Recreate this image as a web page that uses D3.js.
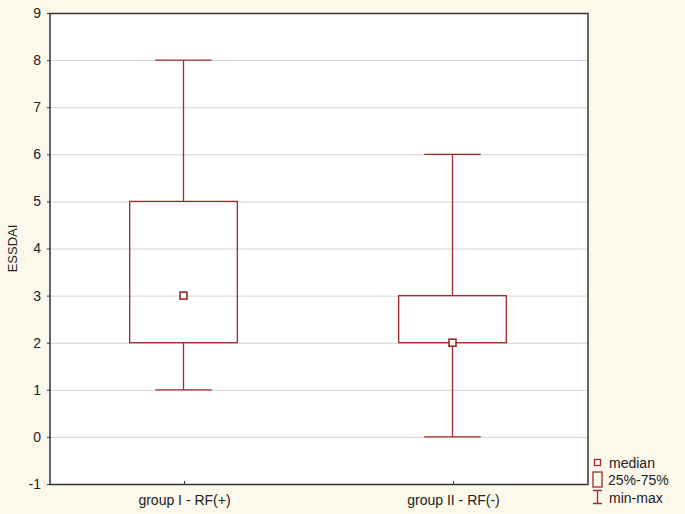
<!DOCTYPE html>
<html>
<head>
<meta charset="utf-8">
<script src="https://cdn.jsdelivr.net/npm/d3@7"></script>
<style>
  body { margin: 0; background: #fcf8ec; }
  svg { display: block; font-family: "Liberation Sans", Arial, sans-serif; }
</style>
</head>
<body>
<div id="chart"></div>
<script>
// data
const groups = ['group I - RF(+)', 'group II - RF(-)'];
const mins = [1, 0];
const q1s = [2, 2];
const medians = [3, 2];
const q3s = [5, 3];
const maxs = [8, 6];
const yTicks = [-1, 0, 1, 2, 3, 4, 5, 6, 7, 8, 9];

const width = 685, height = 514;
const margin = { top: 13, right: 97, bottom: 30, left: 50 };
const boxColor = '#a02a2a';

const svg = d3.select('#chart').append('svg')
  .attr('width', width)
  .attr('height', height);

const x = d3.scaleBand()
  .domain(groups)
  .range([margin.left, width - margin.right]);

const y = d3.scaleLinear()
  .domain([-1, 9])
  .range([height - margin.bottom, margin.top]);

// plot background
svg.append('rect')
  .attr('x', margin.left).attr('y', margin.top)
  .attr('width', width - margin.left - margin.right)
  .attr('height', height - margin.top - margin.bottom)
  .attr('fill', '#fff');

// grid lines
svg.append('g').selectAll('line')
  .data(yTicks.slice(1, -1))
  .join('line')
  .attr('x1', margin.left).attr('x2', width - margin.right)
  .attr('y1', d => y(d) + 0.5).attr('y2', d => y(d) + 0.5)
  .attr('stroke', '#d4d4d4');

// y axis
const yAxis = svg.append('g')
  .attr('transform', `translate(${margin.left},0)`)
  .call(d3.axisLeft(y).tickValues(yTicks).tickSize(3).tickPadding(6).tickFormat(d => String(d)));
yAxis.select('.domain').remove();
yAxis.selectAll('line').attr('stroke', '#333');
yAxis.selectAll('text').attr('font-size', 14).attr('fill', '#222')
  .attr('font-family', '"Liberation Sans", Arial, sans-serif');

// x axis (ticks pointing inward)
const xAxis = svg.append('g')
  .attr('transform', `translate(0,${height - margin.bottom})`)
  .call(d3.axisBottom(x).tickSize(-3).tickPadding(11));
xAxis.select('.domain').remove();
xAxis.selectAll('line').attr('stroke', '#333');
xAxis.selectAll('text').attr('font-size', 14).attr('fill', '#222')
  .attr('font-family', '"Liberation Sans", Arial, sans-serif');

// frame
svg.append('rect')
  .attr('x', margin.left).attr('y', margin.top + 0.5)
  .attr('width', width - margin.left - margin.right)
  .attr('height', height - margin.top - margin.bottom)
  .attr('fill', 'none')
  .attr('stroke', '#333')
  .attr('stroke-width', 1.5);

// y label
svg.append('text')
  .attr('transform', `translate(17,${(margin.top + height - margin.bottom) / 2}) rotate(-90)`)
  .attr('text-anchor', 'middle')
  .attr('font-size', 13)
  .attr('fill', '#222')
  .text('ESSDAI');

// boxes
const boxW = x.bandwidth() * 0.4;
const capW = x.bandwidth() * 0.21;
const box = svg.append('g').selectAll('g')
  .data(groups.map((g, i) => ({ g, min: mins[i], q1: q1s[i], med: medians[i], q3: q3s[i], max: maxs[i] })))
  .join('g')
  .attr('stroke', boxColor)
  .attr('stroke-width', 1.3)
  .attr('fill', 'none');

box.each(function (d) {
  const g = d3.select(this);
  const cx = Math.floor(x(d.g) + x.bandwidth() / 2) - 0.5;
  g.append('line').attr('x1', cx).attr('x2', cx).attr('y1', y(d.max)).attr('y2', y(d.q3));
  g.append('line').attr('x1', cx).attr('x2', cx).attr('y1', y(d.q1)).attr('y2', y(d.min));
  g.append('line').attr('x1', cx - capW / 2).attr('x2', cx + capW / 2).attr('y1', y(d.max)).attr('y2', y(d.max));
  g.append('line').attr('x1', cx - capW / 2).attr('x2', cx + capW / 2).attr('y1', y(d.min)).attr('y2', y(d.min));
  g.append('rect')
    .attr('x', cx - boxW / 2).attr('y', y(d.q3))
    .attr('width', boxW).attr('height', y(d.q1) - y(d.q3));
  g.append('rect')
    .attr('x', cx - 3.5).attr('y', y(d.med) - 3.5)
    .attr('width', 7).attr('height', 7)
    .attr('fill', '#fff').attr('stroke-width', 1.6);
});

// legend
const lg = svg.append('g').attr('font-size', 14).attr('fill', '#222');
lg.append('rect').attr('x', 594.5).attr('y', 459.5).attr('width', 6).attr('height', 6)
  .attr('fill', 'none').attr('stroke', boxColor).attr('stroke-width', 1.3);
lg.append('text').attr('x', 609).attr('y', 468).text('median');
lg.append('rect').attr('x', 593).attr('y', 472).attr('width', 9).attr('height', 15)
  .attr('fill', 'none').attr('stroke', boxColor).attr('stroke-width', 1.3);
lg.append('text').attr('x', 608).attr('y', 485).text('25%-75%');
lg.append('path').attr('d', 'M593,490.5H602M597.5,490.5V503M593,503.5H602')
  .attr('fill', 'none').attr('stroke', boxColor).attr('stroke-width', 1.3);
lg.append('text').attr('x', 609).attr('y', 503).text('min-max');
</script>
</body>
</html>
